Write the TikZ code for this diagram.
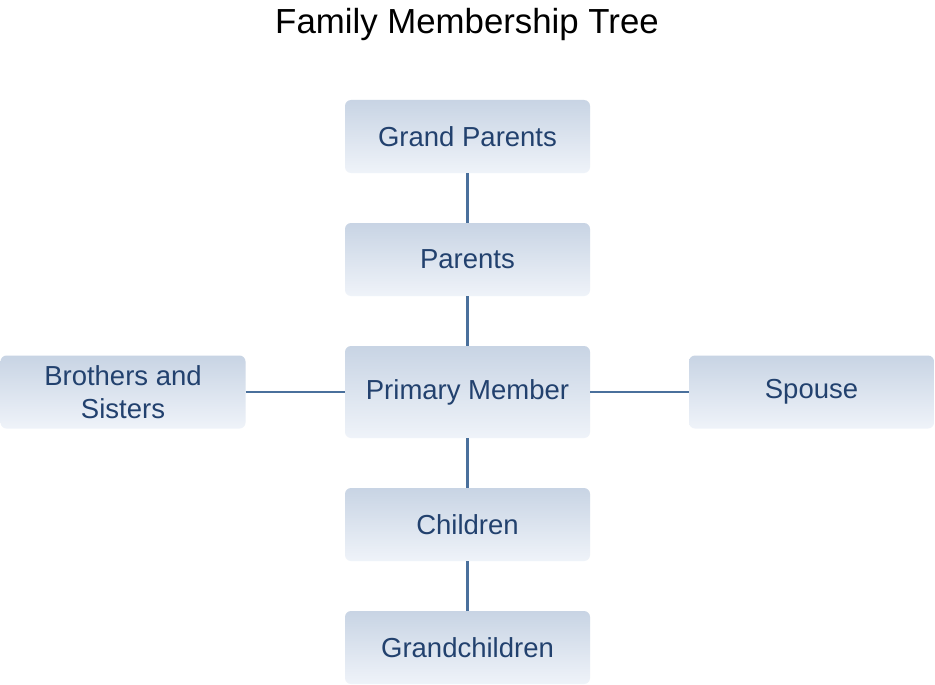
\documentclass[tikz,border=0pt]{standalone}
\usepackage{fontspec}
\setmainfont{Liberation Sans}
\usepackage{xcolor}
\usetikzlibrary{positioning}

\definecolor{boxTop}{HTML}{C8D4E4}
\definecolor{boxBottom}{HTML}{EFF3F9}
\definecolor{boxText}{HTML}{22416E}
\definecolor{linkBlue}{HTML}{4A709C}

\tikzset{
    famBox/.style={rectangle, rounded corners=6pt, top color=boxTop, bottom color=boxBottom,
        draw=none, minimum width=245pt, minimum height=73pt, inner sep=0pt, align=center,
        text=boxText, font=\fontsize{27.5}{33}\selectfont},
    linkLine/.style={draw=linkBlue, line width=2.2pt}
}

\begin{document}
\begin{tikzpicture}[x=1pt, y=-1pt]
    % Canvas
    \fill[white] (0,0) rectangle (935,685);
    \useasboundingbox (0,0) rectangle (935,685);

    % Title
    \node[font=\fontsize{34.8}{40}\selectfont] (title) at (467,24.5) {Family Membership Tree};

    % Members
    \node[famBox] (grand) at (467.5,136.5) {Grand Parents};
    \node[famBox] (parents) at (467.5,259.5) {Parents};
    \node[famBox, minimum height=92pt] (primary) at (467.5,392) {Primary Member};
    \node[famBox] (siblings) at (123,392) {Brothers and\\Sisters};
    \node[famBox] (spouse) at (811.5,392) {Spouse};
    \node[famBox] (children) at (467.5,524.5) {Children};
    \node[famBox] (grandkids) at (467.5,647.5) {Grandchildren};

    % Links
    \draw[linkLine] (grand) -- (parents);
    \draw[linkLine] (parents) -- (primary);
    \draw[linkLine] (primary) -- (children);
    \draw[linkLine] (children) -- (grandkids);
    \draw[linkLine] (siblings) -- (primary);
    \draw[linkLine] (primary) -- (spouse);

\end{tikzpicture}
\end{document}
